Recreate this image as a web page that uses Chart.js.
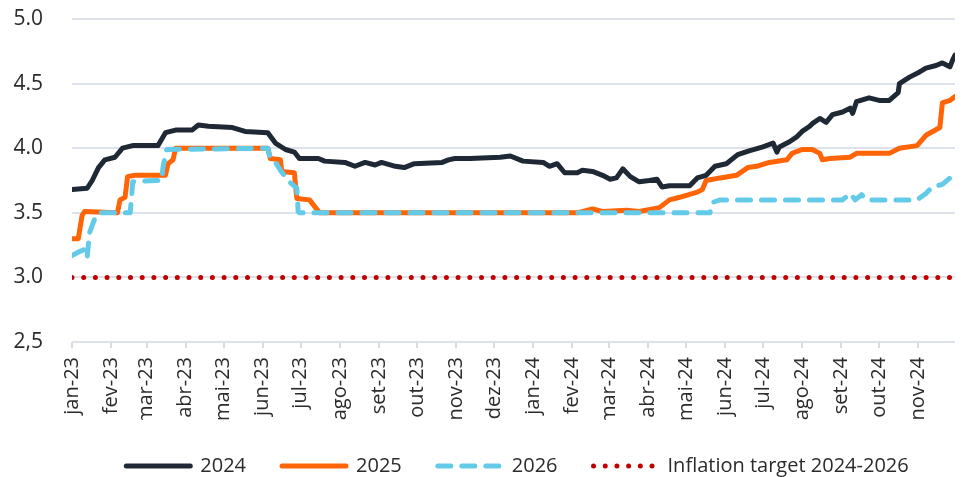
<!DOCTYPE html>
<html>
<head>
<meta charset="utf-8">
<script src="https://cdn.jsdelivr.net/npm/chart.js@4.4.1/dist/chart.umd.min.js"></script>
<style>
  html, body { margin: 0; padding: 0; background: #ffffff; }
  #wrap { width: 963px; height: 477px; }
</style>
</head>
<body>
<div id="wrap"><canvas id="chart"></canvas></div>
<script>
// x values are days since 1 jan 2023
const monthLabels = ["jan-23", "fev-23", "mar-23", "abr-23", "mai-23", "jun-23", "jul-23", "ago-23", "set-23", "out-23", "nov-23", "dez-23",
  "jan-24", "fev-24", "mar-24", "abr-24", "mai-24", "jun-24", "jul-24", "ago-24", "set-24", "out-24", "nov-24"];
const monthStarts = [0, 31, 59, 90, 120, 151, 181, 212, 243, 273, 304, 334, 365, 396, 425, 456, 486, 517, 547, 578, 609, 639, 670];
const lastDay = 699;

const yTickValues = [2.5, 3.0, 3.5, 4.0, 4.5, 5.0];
const yTickLabels = ["2,5", "3.0", "3.5", "4.0", "4.5", "5.0"];

const series2024 = [[0,3.68],[12,3.69],[16,3.75],[21,3.85],[26,3.91],[34,3.93],[40,4.0],[48,4.02],[68,4.02],[71,4.07],[74,4.12],[82,4.14],[95,4.14],
  [100,4.18],[108,4.17],[127,4.16],[137,4.13],[155,4.12],[161,4.04],[169,3.99],[176,3.97],[180,3.92],[195,3.92],[200,3.90],[216,3.89],
  [224,3.86],[232,3.89],[240,3.87],[245,3.89],[256,3.86],[263,3.85],[271,3.88],[293,3.89],[298,3.91],[303,3.92],[315,3.92],[339,3.93],
  [347,3.94],[357,3.90],[373,3.89],[378,3.86],[384,3.88],[390,3.81],[400,3.81],[404,3.83],[412,3.82],[420,3.79],[426,3.76],[431,3.77],
  [436,3.84],[442,3.78],[449,3.74],[457,3.75],[463,3.76],[467,3.70],[473,3.71],[489,3.71],[495,3.77],[502,3.79],[509,3.86],[518,3.88],
  [527,3.95],[536,3.98],[547,4.01],[555,4.04],[558,3.97],[560,4.01],[568,4.05],[574,4.09],[578,4.13],[584,4.17],[586,4.19],[592,4.23],
  [597,4.20],[602,4.26],[610,4.28],[616,4.31],[618,4.27],[621,4.36],[631,4.39],[639,4.37],[647,4.37],[654,4.43],[655,4.50],[663,4.55],
  [671,4.59],[676,4.62],[684,4.64],[689,4.66],[695,4.63],[697,4.68],[699,4.72]];

const series2025 = [[0,3.30],[5,3.30],[8,3.48],[10,3.51],[36,3.50],[38,3.60],[42,3.62],[44,3.78],[50,3.79],[74,3.79],[76,3.88],[80,3.91],
  [82,4.0],[155,4.0],[157,3.92],[165,3.91],[166,3.82],[176,3.81],[178,3.61],[188,3.60],[192,3.55],[196,3.50],[400,3.50],[412,3.53],
  [420,3.51],[439,3.52],[449,3.51],[465,3.54],[473,3.60],[481,3.62],[495,3.66],[499,3.68],[502,3.75],[513,3.77],[526,3.79],[535,3.85],
  [542,3.86],[552,3.89],[566,3.91],[570,3.96],[578,3.99],[586,3.99],[592,3.96],[594,3.91],[600,3.92],[616,3.93],[621,3.96],[647,3.96],
  [655,4.0],[669,4.02],[676,4.10],[687,4.16],[689,4.35],[695,4.37],[699,4.40]];

const series2026 = [[0,3.17],[6,3.20],[11,3.22],[12,3.16],[14,3.35],[19,3.48],[22,3.50],[46,3.50],[47,3.60],[48,3.74],[66,3.75],[71,3.75],
  [72,3.85],[75,3.99],[155,4.0],[157,3.92],[161,3.89],[165,3.83],[171,3.75],[178,3.69],[179,3.51],[180,3.50],[505,3.50],[507,3.58],
  [513,3.60],[610,3.60],[616,3.65],[620,3.60],[625,3.64],[629,3.60],[669,3.60],[676,3.65],[681,3.70],[689,3.72],[695,3.77],[699,3.82]];

const inflationTarget = [[0,3.0],[lastDay,3.0]];

const toPoints = (arr) => arr.map(([x, y]) => ({ x, y }));

const lineBase = {
  pointRadius: 0,
  pointHoverRadius: 0,
  pointStyle: "line",
  tension: 0,
  borderCapStyle: "round",
  borderJoinStyle: "round",
  fill: false,
};

// legend sits a bit right of the canvas centre in the original
const legendShift = {
  id: "legendShift",
  afterLayout(chart) {
    chart.legend.left += 40;
    chart.legend.right += 40;
  },
};

const ctx = document.getElementById("chart").getContext("2d");

new Chart(ctx, {
  type: "line",
  data: {
    datasets: [
      { ...lineBase, label: "2024", data: toPoints(series2024), borderColor: "#1e2935", backgroundColor: "#1e2935", borderWidth: 5, order: 0 },
      { ...lineBase, label: "2025", data: toPoints(series2025), borderColor: "#ff6407", backgroundColor: "#ff6407", borderWidth: 5, order: 2 },
      { ...lineBase, label: "2026", data: toPoints(series2026), borderColor: "#63cbe8", backgroundColor: "#63cbe8", borderWidth: 5, borderDash: [13, 11], order: 1 },
      { ...lineBase, label: "Inflation target 2024-2026", data: toPoints(inflationTarget), borderColor: "#c00000", backgroundColor: "#c00000", borderWidth: 5, borderDash: [0, 11.7], order: 3 },
    ],
  },
  options: {
    responsive: true,
    maintainAspectRatio: false,
    animation: false,
    layout: {
      padding: { left: 0, right: 8, top: 19, bottom: -9 },
    },
    plugins: {
      tooltip: { enabled: false },
      legend: {
        position: "bottom",
        labels: {
          usePointStyle: true,
          pointStyleWidth: 64,
          padding: 36,
          color: "#2b2b2b",
          font: { family: "'Open Sans', sans-serif", size: 20 },
          sort: (a, b) => a.datasetIndex - b.datasetIndex,
          generateLabels: (chart) => {
            const items = Chart.defaults.plugins.legend.labels.generateLabels(chart);
            items.forEach((item) => {
              const ds = chart.data.datasets[item.datasetIndex];
              item.lineDash = ds.borderDash || [];
              item.lineCap = "round";
              item.lineWidth = ds.borderWidth;
              item.strokeStyle = ds.borderColor;
            });
            return items;
          },
        },
      },
    },
    scales: {
      x: {
        type: "linear",
        min: 0,
        max: lastDay,
        afterBuildTicks: (scale) => {
          scale.ticks = monthStarts.map((v) => ({ value: v }));
        },
        afterFit: (scale) => {
          scale.height = 78;
        },
        grid: {
          drawOnChartArea: false,
          drawTicks: true,
          tickLength: 6,
          color: "#d6dbe5",
          lineWidth: 2,
        },
        border: { display: false },
        ticks: {
          autoSkip: false,
          minRotation: 90,
          maxRotation: 90,
          padding: 9,
          color: "#2b2b2b",
          font: { family: "'Open Sans', sans-serif", size: 20 },
          callback: (value) => monthLabels[monthStarts.indexOf(value)],
        },
      },
      y: {
        min: 2.5,
        max: 5.0,
        afterBuildTicks: (scale) => {
          scale.ticks = yTickValues.map((v) => ({ value: v }));
        },
        afterFit: (scale) => {
          scale.width = 72;
        },
        grid: {
          drawTicks: true,
          tickLength: 29,
          tickColor: "rgba(0,0,0,0)",
          color: "#dde1ea",
          lineWidth: 2,
        },
        border: { display: false },
        ticks: {
          padding: 0,
          color: "#2b2b2b",
          font: { family: "'Open Sans', sans-serif", size: 21 },
          callback: (value) => yTickLabels[yTickValues.indexOf(value)],
        },
      },
    },
  },
  plugins: [legendShift],
});
</script>
</body>
</html>
